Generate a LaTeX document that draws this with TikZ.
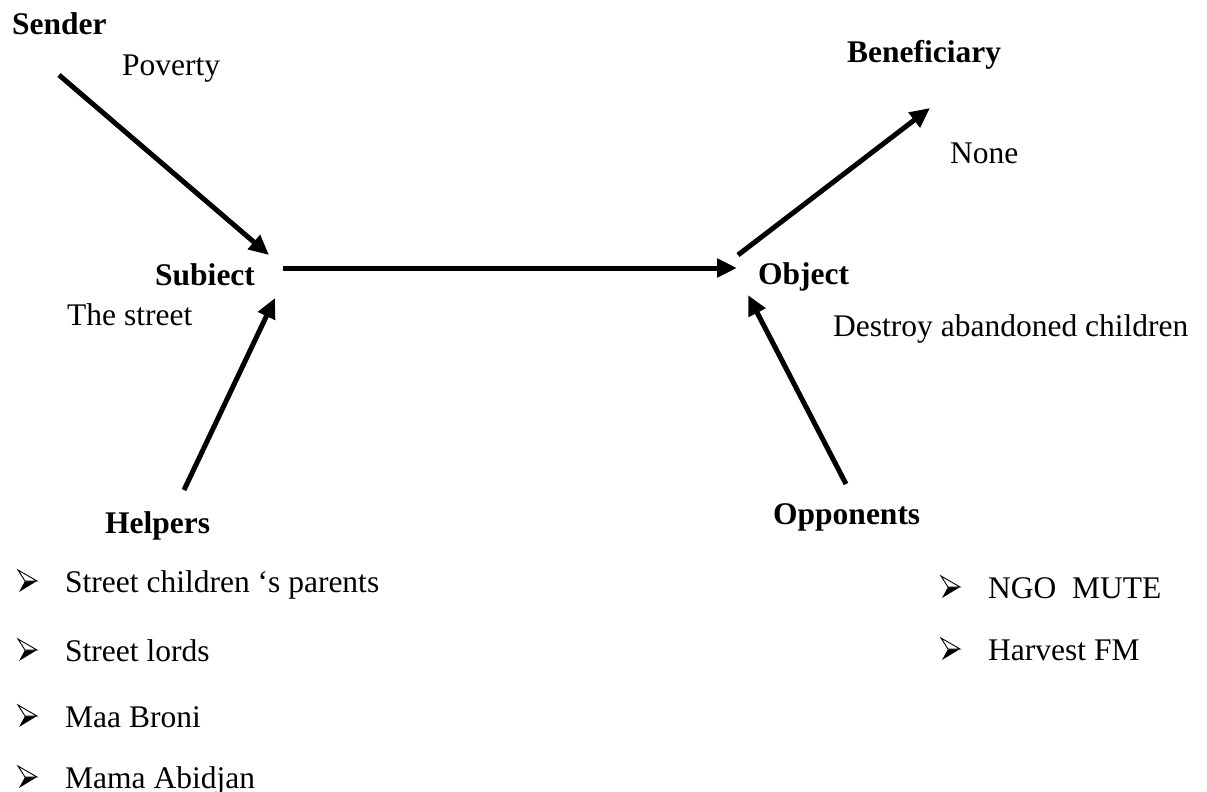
\documentclass[tikz,border=0pt]{standalone}
\usepackage{fontspec}
\setmainfont{Liberation Serif}
\usetikzlibrary{arrows.meta}
\begin{document}
\begin{tikzpicture}[x=1pt,y=-1pt,
  txt/.style={anchor=base west,inner sep=0pt,font=\fontsize{31.5}{36}\selectfont},
  head/.style={anchor=base west,inner sep=0pt,font=\fontsize{31.5}{36}\selectfont\bfseries},
  arr/.style={line width=5pt,-{Triangle[length=20pt,width=18pt]}},
  bullet/.pic={
    \fill[black] (7,-11) -- (19,-11) -- (1,0) -- cycle;
    \draw[line width=0.9pt,line join=miter,fill=white] (0,-22) -- (19,-11) -- (7,-11) -- cycle;
  }]
\useasboundingbox (0,0) rectangle (1207,792);
% labels
\node[head] (sender) at (12,35) {Sender};
\node[txt] (poverty) at (122,75) {Poverty};
\node[head] (subject) at (155,285) {Subiect};
\node[txt] (street) at (67,325) {The street};
\node[head] (object) at (758,284) {Object};
\node[txt] (destroy) at (833,336) {Destroy abandoned children};
\node[head] (benef) at (847,63) {Beneficiary};
\node[txt] (none) at (950,163) {None};
\node[head] (helpers) at (105,533) {Helpers};
\node[head] (opp) at (773,524) {Opponents};
% helper list
\pic (hb1) at (18,592) {bullet};
\node[txt] (h1) at (65,592) {Street children ‘s parents};
\pic (hb2) at (18,661) {bullet};
\node[txt] (h2) at (65,661) {Street lords};
\pic (hb3) at (18,727) {bullet};
\node[txt] (h3) at (65,727) {Maa Broni};
\pic (hb4) at (18,788) {bullet};
\node[txt] (h4) at (65,788) {Mama Abidjan};
% opponents list
\pic (ob1) at (941,598) {bullet};
\node[txt] (o1) at (988,598) {NGO\ \ MUTE};
\pic (ob2) at (941,660) {bullet};
\node[txt] (o2) at (988,660) {Harvest FM};
% arrow end points
\coordinate (sS) at (59,75);
\coordinate (sE) at (269,255);
\coordinate (hS) at (184,490);
\coordinate (hE) at (275,298);
\coordinate (mS) at (283,268);
\coordinate (mE) at (737,268);
\coordinate (bS) at (738,255);
\coordinate (bE) at (930,108);
\coordinate (oS) at (846,484);
\coordinate (oE) at (748,295);
\draw[arr] (sS) -- (sE);
\draw[arr] (hS) -- (hE);
\draw[arr] (mS) -- (mE);
\draw[arr] (bS) -- (bE);
\draw[arr] (oS) -- (oE);
\end{tikzpicture}
\end{document}
